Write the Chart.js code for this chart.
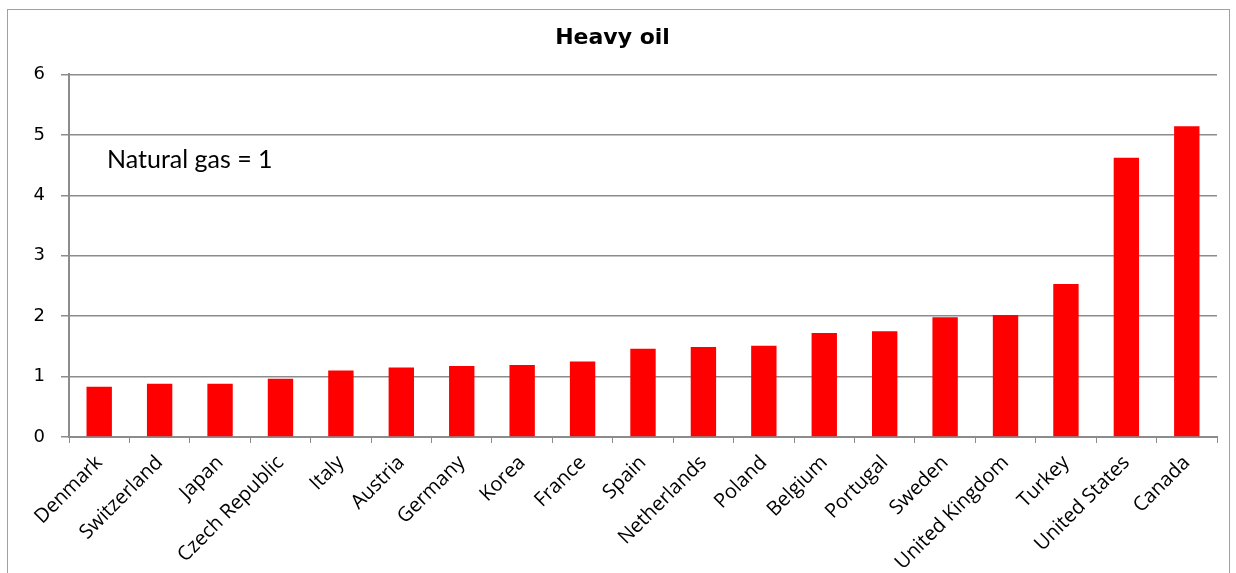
<!DOCTYPE html>
<html>
<head>
<meta charset="utf-8">
<script src="https://cdn.jsdelivr.net/npm/chart.js@4"></script>
<style>
  html, body { margin: 0; padding: 0; background: #fff; }
  #wrap { width: 1236px; height: 573px; position: relative; }
</style>
</head>
<body>
<div id="wrap"><canvas id="chart"></canvas></div>
<script>
const countries = ['Denmark', 'Switzerland', 'Japan', 'Czech Republic', 'Italy', 'Austria',
  'Germany', 'Korea', 'France', 'Spain', 'Netherlands', 'Poland', 'Belgium', 'Portugal',
  'Sweden', 'United Kingdom', 'Turkey', 'United States', 'Canada'];
const heavyOil = [0.83, 0.88, 0.88, 0.965, 1.10, 1.15, 1.175, 1.19, 1.25, 1.46, 1.49, 1.51,
  1.72, 1.75, 1.98, 2.02, 2.53, 4.62, 5.14];
const yMin = 0, yMax = 6, yStep = 1;
const titleText = 'Heavy oil';
const noteText = 'Natural gas = 1';

const GRID = '#8c8c8c';

// frame + note text
const extras = {
  id: 'extras',
  beforeDraw(chart) {
    const c = chart.ctx;
    c.save();
    c.fillStyle = '#fff';
    c.fillRect(0, 0, chart.width, chart.height);
    c.strokeStyle = '#a0a0a0';
    c.lineWidth = 1;
    c.strokeRect(7.5, 9.5, 1222, 570);
    c.restore();
  },
  afterDraw(chart) {
    const c = chart.ctx;
    const a = chart.chartArea;
    c.save();
    c.fillStyle = '#000';
    c.font = '25px Lato, sans-serif';
    c.textBaseline = 'alphabetic';
    c.fillText(noteText, a.left + 38, a.top + 94);
    c.restore();
  }
};

new Chart(document.getElementById('chart').getContext('2d'), {
  type: 'bar',
  data: {
    labels: countries,
    datasets: [{
      label: titleText,
      data: heavyOil,
      backgroundColor: '#ff0000',
      borderWidth: 0,
      barPercentage: 0.42,
      categoryPercentage: 1
    }]
  },
  options: {
    responsive: true,
    maintainAspectRatio: false,
    animation: false,
    layout: { padding: { left: 8, right: 19, top: 2, bottom: 4 } },
    plugins: {
      legend: { display: false },
      tooltip: { enabled: false },
      title: {
        display: true,
        text: titleText,
        color: '#000',
        font: { family: 'DejaVu Sans', size: 22, weight: 'bold' },
        padding: { top: 23, bottom: 23 }
      }
    },
    scales: {
      x: {
        grid: { display: true, drawOnChartArea: false, drawTicks: true, tickLength: 6, color: GRID, offset: true },
        border: { color: GRID, width: 2 },
        ticks: {
          color: '#000',
          maxRotation: 45,
          minRotation: 45,
          autoSkip: false,
          padding: 8,
          font: { family: '"Open Sans"', size: 20 }
        },
        afterFit(s) { s.height = 132; }
      },
      y: {
        min: yMin,
        max: yMax,
        grid: { color: GRID, lineWidth: 1.5, tickLength: 8 },
        border: { color: GRID, width: 2 },
        ticks: {
          stepSize: yStep,
          color: '#000',
          padding: 16,
          font: { family: 'DejaVu Sans', size: 18 }
        },
        afterFit(s) { s.width = 61; }
      }
    }
  },
  plugins: [extras]
});
</script>
</body>
</html>
